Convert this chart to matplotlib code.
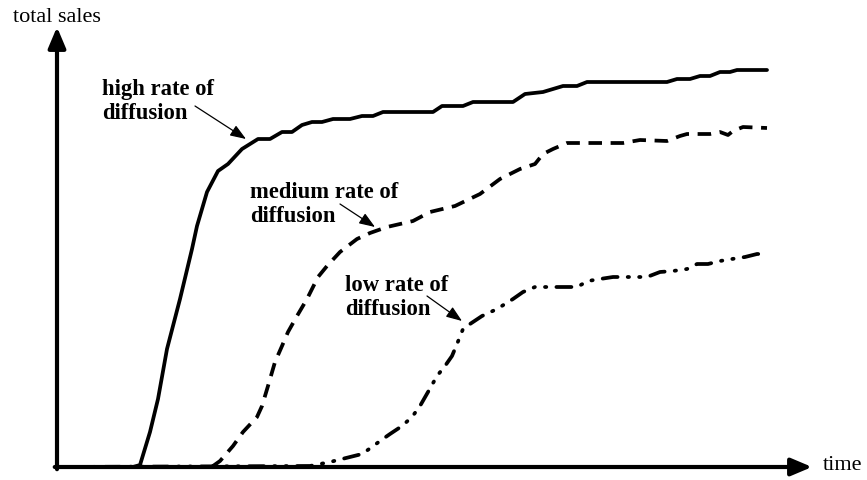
import matplotlib
matplotlib.use("Agg")
import matplotlib.pyplot as plt

# ---- data (arbitrary units: time, total sales) ----
high_t = [0, 76, 83, 93, 101, 110, 123, 135, 140, 150, 161, 171, 185, 201, 213, 225, 235, 245, 255, 265,
          276, 293, 305, 316, 326, 376, 385, 406, 416, 456, 468, 486, 506, 520, 530, 610, 620, 633, 643,
          653, 663, 673, 680, 710]
high_s = [0, 0, 2, 35, 68, 118, 168, 218, 241, 275, 296, 303, 318, 328, 328, 335, 335, 342, 345, 345,
          348, 348, 351, 351, 355, 355, 361, 361, 365, 365, 373, 375, 381, 381, 385, 385, 388, 388, 391,
          391, 395, 395, 397, 397]

med_t = [0, 148, 156, 163, 176, 186, 200, 205, 211, 218, 225, 231, 240, 250, 261, 270, 283, 300, 313,
         330, 356, 373, 398, 423, 443, 463, 478, 486, 496, 510, 566, 583, 610, 623, 630, 653, 663, 671,
         676, 686, 710]
med_s = [0, 0, 1, 6, 21, 35, 50, 61, 81, 105, 121, 135, 151, 168, 190, 201, 215, 228, 234,
         240, 246, 255, 261, 273, 288, 298, 303, 313, 318, 324, 324, 327, 326, 331, 333, 333, 335, 332,
         336, 340, 339]

low_t = [0, 253, 273, 293, 305, 315, 323, 333, 345, 355, 363, 371, 380, 388, 395, 400, 406, 413, 425,
         440, 456, 466, 478, 520, 531, 543, 556, 590, 603, 616, 630, 640, 651, 663, 675, 688, 700, 710]
low_s = [0, 1, 5, 10, 13, 20, 26, 33, 41, 50, 61, 75, 91, 101, 111, 123, 138, 143, 151,
         158, 168, 175, 180, 180, 186, 188, 190, 190, 195, 196, 198, 203, 203, 206, 208, 210, 213, 213]

labels = ["high rate of\ndiffusion", "medium rate of\ndiffusion", "low rate of\ndiffusion"]
x_label = "time"
y_label = "total sales"

# ---- figure ----
W, H = 867, 481
fig = plt.figure(figsize=(W / 100, H / 100), dpi=100)
ax = fig.add_axes([57 / W, 13 / H, 755 / W, 440 / H])
ax.set_xlim(0, 755)
ax.set_ylim(0, 440)
ax.axis("off")

serif = ["Liberation Serif", "DejaVu Serif"]
lw = 2.7

ax.plot(high_t, high_s, color="black", lw=lw, solid_joinstyle="round", solid_capstyle="round", clip_on=False)
ax.plot(med_t, med_s, color="black", lw=lw, linestyle=(0, (3.6, 2.3)), dash_capstyle="butt", clip_on=False)
ax.plot(low_t, low_s, color="black", lw=lw, linestyle=(0, (4.0, 2.7, 0.35, 2.7, 0.35, 2.7)),
        dash_capstyle="round", clip_on=False)

# axes with arrows
arrow_kw = dict(arrowstyle="-|>,head_length=0.9,head_width=0.38", lw=3, color="black",
                shrinkA=0, shrinkB=0, mutation_scale=14)
ax.annotate("", xy=(1, 0), xytext=(-0.003, 0), xycoords="axes fraction", arrowprops=arrow_kw)
ax.annotate("", xy=(0, 1), xytext=(0, -0.005), xycoords="axes fraction", arrowprops=arrow_kw)

fig.text(13 / W, 1 - 17 / H, y_label, fontsize=16, family=serif, va="center", ha="left")
fig.text(823 / W, 1 - 466 / H, x_label, fontsize=16, family=serif, va="center", ha="left")

# annotations (text position, arrow tail, arrow tip), in data coordinates
ann_text = [(45, 389), (193, 286), (288, 193)]
ann_tail = [(138, 361), (283, 263), (370, 171)]
ann_tip = [(189, 328), (318, 240), (405, 146)]
for lab, tp, tl, tip in zip(labels, ann_text, ann_tail, ann_tip):
    ax.text(tp[0], tp[1], lab, fontsize=16.3, family=serif, fontweight="bold",
            va="top", ha="left", linespacing=1.18)
    ax.annotate("", xy=tip, xytext=tl,
                arrowprops=dict(arrowstyle="-|>,head_length=0.8,head_width=0.3", lw=0.9,
                                color="black", shrinkA=0, shrinkB=0, mutation_scale=12))

fig.savefig("out.png", dpi=100)
